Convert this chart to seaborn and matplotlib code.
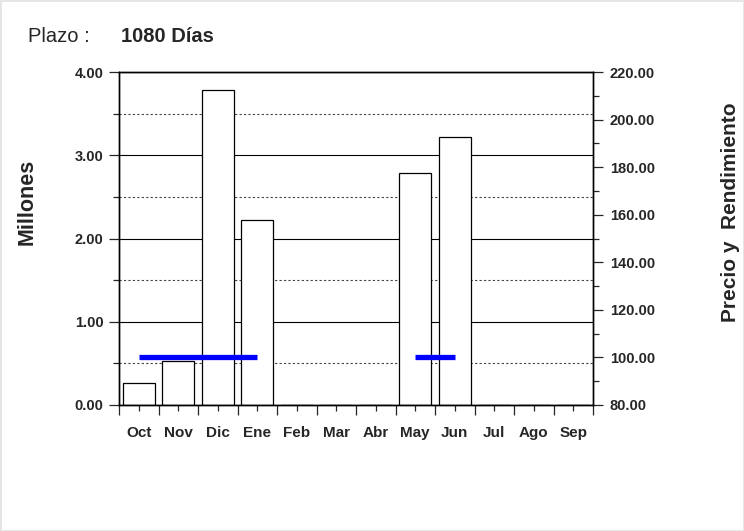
import numpy as np
import pandas as pd
import seaborn as sns
import matplotlib.pyplot as plt
from matplotlib.ticker import MultipleLocator, FixedLocator

# data
meses = ["Oct", "Nov", "Dic", "Ene", "Feb", "Mar", "Abr", "May", "Jun", "Jul", "Ago", "Sep"]
millones = [0.27, 0.53, 3.78, 2.22, 0, 0, 0, 2.79, 3.22, 0, 0, 0]
precio = [100.0, 100.0, 100.0, 100.0, np.nan, np.nan, np.nan, 100.0, 100.0, np.nan, np.nan, np.nan]

sns.set_theme(style="ticks")
plt.rcParams['font.family'] = ['Liberation Sans', 'DejaVu Sans']

df = pd.DataFrame({"mes": meses, "millones": millones, "precio": precio, "pos": range(len(meses))})

fig = plt.figure(figsize=(7.44, 5.31), dpi=100)
ax = fig.add_axes([119 / 744, 1 - 405 / 531, (593 - 119) / 744, (405 - 72) / 531])

sns.barplot(data=df, x="mes", y="millones", color="white", saturation=1,
            edgecolor="black", linewidth=0.9, width=0.8, ax=ax, zorder=2)
ax.set_xlim(-0.5, 11.5)
ax.set_ylim(0, 4)
ax.set_xlabel("")
ax.set_ylabel("")

# grid: solid at whole millions, dotted at halves
ax.yaxis.set_major_locator(MultipleLocator(1))
ax.yaxis.set_minor_locator(MultipleLocator(0.5))
ax.set_axisbelow(True)
ax.grid(axis="y", which="major", color="black", linewidth=0.8, linestyle="-")
ax.grid(axis="y", which="minor", color="#444444", linewidth=0.8, linestyle=(0, (2, 2)))
ax.set_yticks(np.arange(0, 4.01, 1))
ax.set_yticklabels([f"{v:.2f}" for v in np.arange(0, 4.01, 1)], fontweight="bold", fontsize=10.5)
ax.tick_params(axis="y", which="major", length=7, width=0.9, direction="out", pad=4)
ax.tick_params(axis="y", which="minor", length=4, width=0.9, direction="out")

# month labels at the centres, long ticks at the boundaries
ax.set_xticks(range(12))
ax.set_xticklabels(meses, fontweight="bold", fontsize=11)
ax.xaxis.set_minor_locator(FixedLocator(np.arange(-0.5, 12, 1)))
ax.tick_params(axis="x", which="major", length=4, width=0.9, direction="out", pad=11)
ax.tick_params(axis="x", which="minor", length=7, width=0.9, direction="out")

for s in ax.spines.values():
    s.set_color("black")
    s.set_linewidth(1)

# price on the right axis
ax2 = ax.twinx()
for seg in [df.iloc[0:4], df.iloc[7:9]]:
    sns.lineplot(data=seg, x="pos", y="precio", color="#0000ff", linewidth=3.8,
                 ax=ax2, solid_capstyle="butt")
ax2.set_xlim(-0.5, 11.5)
ax2.set_ylim(80, 220)
ax2.set_xlabel("")
ax2.set_ylabel("")
ax2.set_yticks(np.arange(80, 221, 20))
ax2.set_yticklabels([f"{v:.2f}" for v in np.arange(80, 221, 20)], fontweight="bold", fontsize=10.5)
ax2.yaxis.set_minor_locator(MultipleLocator(10))
ax2.tick_params(axis="y", which="major", length=7, width=0.9, direction="out", pad=5)
ax2.tick_params(axis="y", which="minor", length=4, width=0.9, direction="out")
for s in ax2.spines.values():
    s.set_color("black")
    s.set_linewidth(1)

fig.text(27 / 744, 1 - 202 / 531, "Millones", rotation=90, ha="center", va="center",
         fontweight="bold", fontsize=15.5)
fig.text(731 / 744, 1 - 212 / 531, "Precio y  Rendimiento", rotation=90, ha="center", va="center",
         fontweight="bold", fontsize=15)
fig.text(28 / 744, 1 - 36 / 531, "Plazo :", ha="left", va="center", fontsize=14.5)
fig.text(121 / 744, 1 - 36 / 531, "1080 Días", ha="left", va="center", fontsize=14.5, fontweight="bold")

fig.patch.set_edgecolor("#e6e6e6")
fig.patch.set_linewidth(2)

fig.savefig("out.png", dpi=100, edgecolor=fig.get_edgecolor())
